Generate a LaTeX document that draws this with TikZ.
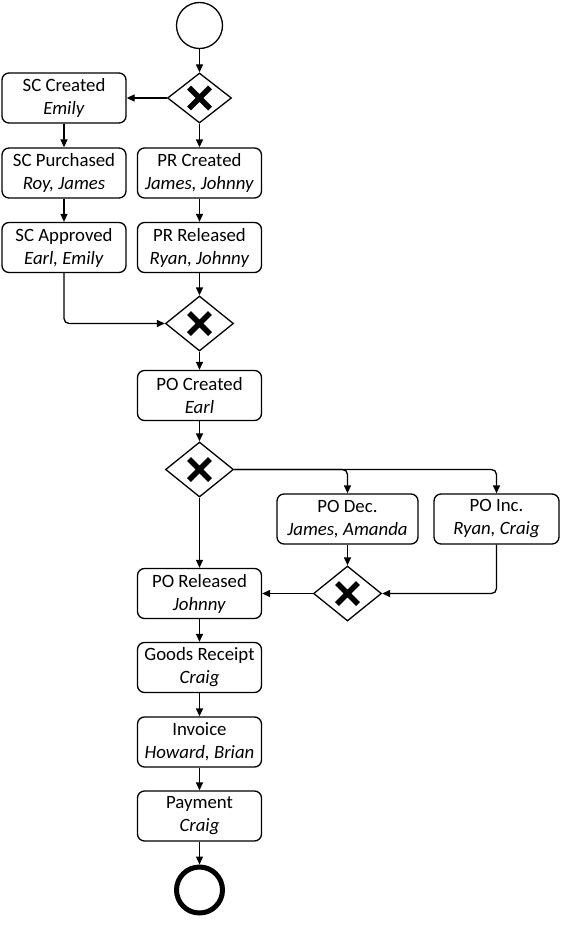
\documentclass[tikz,border=0pt]{standalone}
\usepackage{fontspec}
\setmainfont{Carlito}
\usepackage{tikz}
\usetikzlibrary{arrows.meta,shapes.geometric}

\tikzset{
    task/.style={draw, line width=1.3pt, rounded corners=7pt, align=center, inner sep=2pt,
        minimum width=124pt, minimum height=50pt, font=\fontsize{18.8}{23}\selectfont},
    gateway/.style={draw, diamond, line width=1.3pt, inner sep=0pt, minimum width=68pt, minimum height=55pt,
        path picture={\draw[line width=5.5pt]
            ([shift={(-10.5pt,-10.5pt)}]path picture bounding box.center) -- ([shift={(10.5pt,10.5pt)}]path picture bounding box.center)
            ([shift={(-10.5pt,10.5pt)}]path picture bounding box.center) -- ([shift={(10.5pt,-10.5pt)}]path picture bounding box.center);}},
    startev/.style={draw, circle, line width=1.3pt, minimum size=46pt, inner sep=0pt},
    endev/.style={draw, circle, line width=5pt, minimum size=46pt, inner sep=0pt},
    flow/.style={-{Triangle[length=8pt,width=7pt]}, line width=1.3pt},
}

\begin{document}
\begin{tikzpicture}[x=1pt, y=-1pt]
        \useasboundingbox (0, 0) rectangle (560, 950);

        \node[startev] (start) at (199.5, 25.5) {};
        \node[gateway, minimum width=64pt, minimum height=50pt] (g1) at (199.5, 98) {};

        \node[task] (scc) at (64, 98) {SC Created\\\textit{Emily}};
        \node[task] (scp) at (64, 173) {SC Purchased\\\textit{Roy, James}};
        \node[task] (sca) at (64, 247.5) {SC Approved\\\textit{Earl, Emily}};
        \node[task] (prc) at (199.5, 173) {PR Created\\\textit{James, Johnny}};
        \node[task] (prr) at (199.5, 247.5) {PR Released\\\textit{Ryan, Johnny}};

        \node[gateway] (g2) at (199.5, 323.5) {};
        \node[task] (poc) at (199.5, 395.5) {PO Created\\\textit{Earl}};
        \node[gateway] (g3) at (199.5, 469.5) {};

        \node[task, minimum width=141pt] (pod) at (347.5, 519) {PO Dec.\\\textit{James, Amanda}};
        \node[task, minimum width=125pt] (poi) at (496.5, 519) {PO Inc.\\\textit{Ryan, Craig}};
        \node[gateway] (g4) at (347.5, 593.5) {};

        \node[task] (por) at (199.5, 593.5) {PO Released\\\textit{Johnny}};
        \node[task] (gr) at (199.5, 667.5) {Goods Receipt\\\textit{Craig}};
        \node[task] (inv) at (199.5, 742) {Invoice\\\textit{Howard, Brian}};
        \node[task] (pay) at (199.5, 816) {Payment\\\textit{Craig}};
        \node[endev] (end) at (199.5, 890) {};

        % upper part
        \draw[flow] (start) -- (g1);
        \draw[flow] (g1) -- (scc);
        \draw[flow] (g1) -- (prc);
        \draw[flow] (scc) -- (scp);
        \draw[flow] (scp) -- (sca);
        \draw[flow] (prc) -- (prr);
        \draw[flow] (prr) -- (g2);
        \draw[flow, rounded corners=5pt] (sca) |- (g2);

        % purchase order
        \draw[flow] (g2) -- (poc);
        \draw[flow] (poc) -- (g3);
        \draw[flow] (g3) -- (por);
        \draw[flow, rounded corners=5pt] (g3.east) -| (pod);
        \draw[flow, rounded corners=5pt] (g3.east) -| (poi);
        \draw[flow] (pod) -- (g4);
        \draw[flow, rounded corners=5pt] (poi) |- (g4);
        \draw[flow] (g4) -- (por);

        % lower part
        \draw[flow] (por) -- (gr);
        \draw[flow] (gr) -- (inv);
        \draw[flow] (inv) -- (pay);
        \draw[flow] (pay) -- (end);
    \end{tikzpicture}
\end{document}
